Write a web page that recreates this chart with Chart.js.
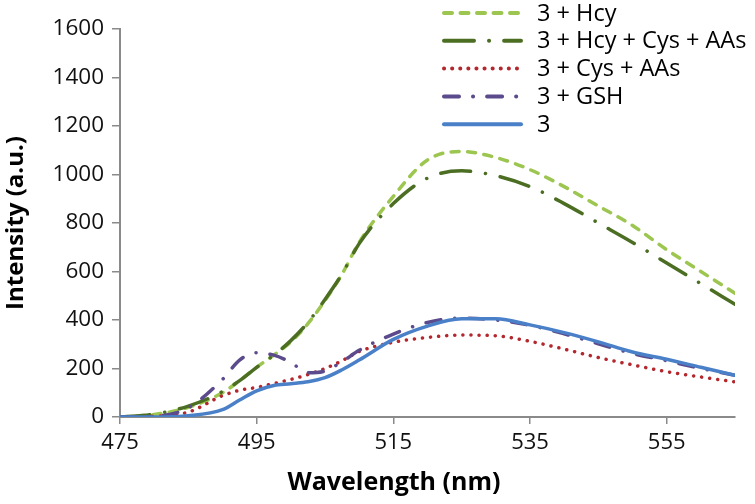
<!DOCTYPE html>
<html lang="en">
  <head>
    <meta charset="UTF-8" />
    <title>Fluorescence spectra</title>
    <script src="https://cdn.jsdelivr.net/npm/chart.js"></script>
    <style>
      body { margin: 0; background: #fff; }
    </style>
  </head>
  <body>
    <canvas id="spectra" width="755" height="504"></canvas>

    <script>
      // wavelengths (nm) shared by every series
      const wavelengths = [475, 480, 485, 490, 492.5, 495, 497.5, 500, 502.5, 505, 507.5, 510,
        515, 520, 525, 530, 535, 540, 545, 550, 555, 560, 565];

      const seriesNames = ["3 + Hcy", "3 + Hcy + Cys + AAs", "3 + Cys + AAs", "3 + GSH", "3"];

      const hcy = [0, 10, 40, 100, 150, 205, 255, 310, 385, 480, 590, 720,
        910, 1060, 1095, 1070, 1020, 950, 870, 790, 690, 600, 510];
      const hcyCysAAs = [0, 12, 45, 105, 150, 205, 255, 315, 390, 485, 590, 715,
        880, 985, 1015, 995, 950, 880, 800, 720, 635, 550, 465];
      const cysAAs = [0, 3, 20, 88, 110, 122, 138, 155, 175, 200, 232, 270,
        308, 328, 338, 335, 312, 280, 245, 215, 187, 165, 145];
      const gsh = [0, 3, 38, 155, 235, 265, 255, 225, 182, 190, 228, 275,
        342, 390, 408, 400, 378, 343, 302, 262, 232, 200, 172];
      const probe = [0, 0, 5, 30, 70, 108, 130, 137, 145, 162, 195, 235,
        320, 375, 405, 405, 380, 348, 310, 268, 238, 205, 172];

      const xTicks = [475, 495, 515, 535, 555];
      const xRange = [475, 565];
      const yRange = [0, 1600];
      const yStep = 200;

      const allValues = [hcy, hcyCysAAs, cysAAs, gsh, probe];
      const colors = ["#9cc64f", "#4b6e23", "#b3282e", "#5b4a8c", "#4a80c8"];
      const dashes = [[8, 8.5], [30, 15, 0.1, 15], [0.1, 8], [15, 14, 0.1, 14], []];

      const axisGray = "#8a8a8a";
      const fontFamily = "'Open Sans', sans-serif";

      const datasets = seriesNames.map((name, i) => ({
        label: name,
        data: wavelengths.map((w, j) => ({ x: w, y: allValues[i][j] })),
        borderColor: colors[i],
        borderWidth: 3.5,
        borderDash: dashes[i],
        borderCapStyle: "round",
        borderJoinStyle: "round",
        cubicInterpolationMode: "monotone",
        pointRadius: 0,
        fill: false,
        order: seriesNames.length - i
      }));

      // legend inside the plot and the x-axis title, drawn on top
      const overlay = {
        id: "overlay",
        afterDraw(chart) {
          const ctx = chart.ctx;
          ctx.save();
          chart.data.datasets.forEach((ds, i) => {
            const y = 13 + i * 27.8;
            ctx.beginPath();
            ctx.strokeStyle = ds.borderColor;
            ctx.lineWidth = 4;
            ctx.lineCap = "round";
            ctx.setLineDash(ds.borderDash);
            ctx.moveTo(444, y);
            ctx.lineTo(521, y);
            ctx.stroke();
            ctx.setLineDash([]);
            ctx.fillStyle = "#000";
            ctx.font = "23.5px " + fontFamily;
            ctx.textAlign = "left";
            ctx.textBaseline = "middle";
            ctx.fillText(ds.label, 537, y + 1);
          });
          ctx.fillStyle = "#000";
          ctx.font = "bold 25px " + fontFamily;
          ctx.textAlign = "center";
          ctx.textBaseline = "middle";
          ctx.fillText("Wavelength (nm)", 394, 483);
          ctx.restore();
        }
      };

      new Chart(document.getElementById("spectra"), {
        type: "line",
        data: { datasets: datasets },
        plugins: [overlay],
        options: {
          responsive: false,
          animation: false,
          devicePixelRatio: 1,
          layout: { padding: { top: 29, right: 20, bottom: 0, left: 0 } },
          plugins: {
            legend: { display: false },
            tooltip: { enabled: false }
          },
          scales: {
            x: {
              type: "linear",
              min: xRange[0],
              max: xRange[1],
              afterBuildTicks: (scale) => {
                scale.ticks = xTicks.map((v) => ({ value: v }));
              },
              afterFit: (scale) => { scale.height = 87; },
              border: { color: axisGray, width: 2 },
              grid: { drawOnChartArea: false, tickLength: 7, color: axisGray, lineWidth: 1.5 },
              ticks: {
                autoSkip: false,
                maxRotation: 0,
                padding: 6,
                color: "#111",
                font: { family: fontFamily, size: 22 },
                callback: (v) => String(v)
              }
            },
            y: {
              min: yRange[0],
              max: yRange[1],
              afterFit: (scale) => { scale.width = 120; },
              border: { color: axisGray, width: 2 },
              grid: { drawOnChartArea: false, tickLength: 8, color: axisGray, lineWidth: 1.5 },
              ticks: {
                stepSize: yStep,
                padding: 8,
                color: "#111",
                font: { family: fontFamily, size: 22.5 },
                callback: (v) => String(v)
              },
              title: {
                display: true,
                text: "Intensity (a.u.)",
                color: "#000",
                padding: { top: 2, bottom: 0 },
                font: { family: fontFamily, size: 24, weight: "bold" }
              }
            }
          }
        }
      });
    </script>
  </body>
</html>
